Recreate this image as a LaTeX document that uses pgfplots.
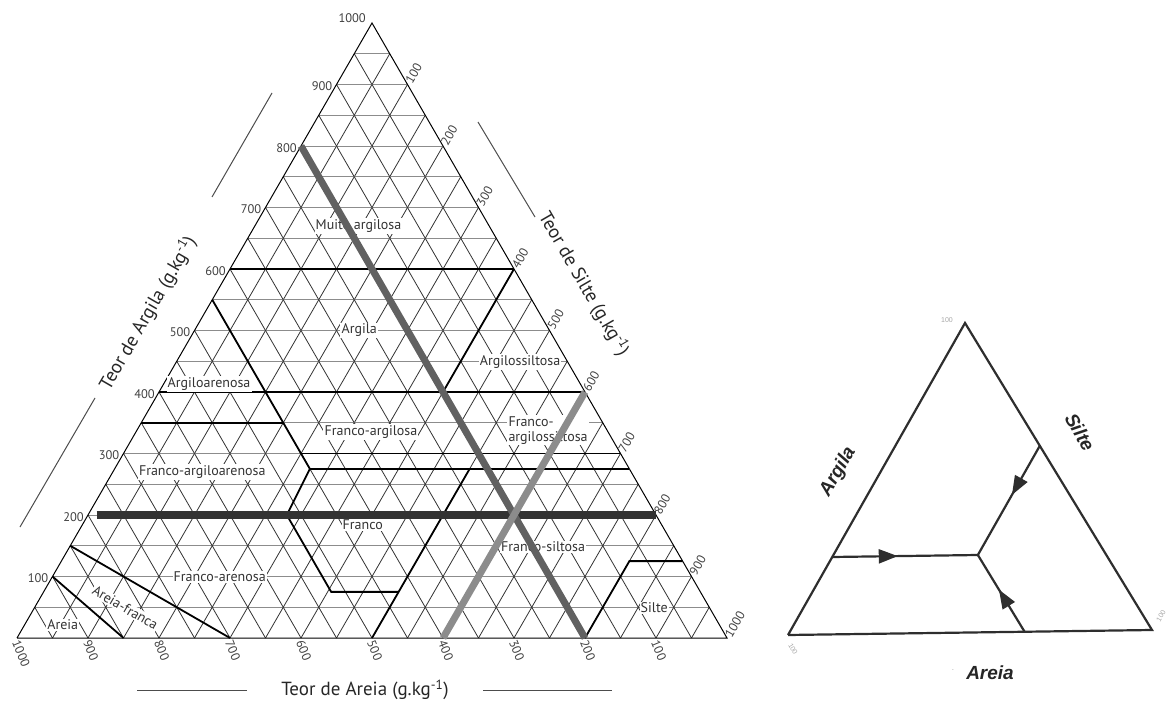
\documentclass[border=0pt]{standalone}
\usepackage{fontspec}
\setmainfont{PT Sans}
\newfontfamily\arialf{Liberation Sans}
\usepackage{pgfplots}
\pgfplotsset{compat=1.18}
\usetikzlibrary{decorations.markings,arrows.meta}

\tikzset{
  hgrid/.style={draw=black!45, line width=0.9pt},
  dgrid/.style={draw=black!80, line width=0.8pt},
  bnd/.style={black, line width=1.8pt},
  lab/.style={fill=white, inner sep=1.2pt, text=black!80, font=\fontsize{14}{15}\selectfont},
  tck/.style={text=black!75, inner sep=2pt, font=\fontsize{12.5}{13}\selectfont},
  ttl/.style={text=black!85, font=\fontsize{19}{20}\selectfont},
  arrowmid/.style={postaction={decorate, decoration={markings,
      mark=at position #1 with {\arrow{Triangle[length=19pt,width=14pt]}}}}},
}

\begin{document}
\begin{tikzpicture}
\path[use as bounding box] (0,0) rectangle (1166pt,702pt);

% left triangle: x = silt, y = clay (g/kg), skewed unit vectors
\begin{axis}[
  at={(17pt,64pt)}, anchor=origin,
  x={(0.71pt,0pt)}, y={(0.355pt,0.615pt)},
  xmin=0, xmax=1000, ymin=0, ymax=1000,
  hide axis, clip=false,
]
\pgfplotsinvokeforeach{50,100,...,950}{
  \draw[hgrid] (axis cs:0,#1) -- (axis cs:{1000-#1},#1);
  \draw[dgrid] (axis cs:#1,0) -- (axis cs:#1,{1000-#1});
  \draw[dgrid] (axis cs:#1,0) -- (axis cs:0,#1);
}
\addplot[black, line width=1pt] coordinates {(0,0) (1000,0) (0,1000) (0,0)};

% class boundaries
\addplot[bnd] coordinates {(0,600) (400,600)};
\addplot[bnd] coordinates {(0,400) (600,400)};
\addplot[bnd] coordinates {(0,350) (200,350)};
\addplot[bnd] coordinates {(0,550) (275,275)};
\addplot[bnd] coordinates {(250,300) (700,300)};
\addplot[bnd] coordinates {(275,275) (725,275)};
\addplot[bnd] coordinates {(275,275) (280,200) (405,75) (500,75)};
\addplot[bnd] coordinates {(500,0) (500,275)};
\addplot[bnd] coordinates {(400,400) (400,600)};
\addplot[bnd] coordinates {(800,0) (800,125) (875,125)};
\addplot[bnd] coordinates {(0,100) (150,0)};
\addplot[bnd] coordinates {(0,150) (300,0)};

% class names
\node[lab] at (axis cs:146,670) {Muito argilosa};
\node[lab] at (axis cs:232,500) {Argila};
\node[lab] at (axis cs:484,449) {Argilossiltosa};
\node[lab] at (axis cs:64,413) {Argiloarenosa};
\node[lab] at (axis cs:331,335) {Franco-argilosa};
\node[lab, align=left] at (axis cs:579,338) {Franco-\\argilossiltosa};
\node[lab] at (axis cs:126,270) {Franco-argiloarenosa};
\node[lab] at (axis cs:395,184) {Franco};
\node[lab] at (axis cs:667,148) {Franco-siltosa};
\node[lab] at (axis cs:236,99) {Franco-arenosa};
\node[lab, rotate=-30] at (axis cs:128,49) {Areia-franca};
\node[lab] at (axis cs:54,21) {Areia};
\node[lab] at (axis cs:873,49) {Silte};

% reading example lines
\addplot[color=black!80, line width=7.5pt] coordinates {(12,200) (800,200)};
\addplot[color=black!62, line width=7pt] coordinates {(0,800) (800,0)};
\addplot[color=black!45, line width=7pt] coordinates {(600,0) (600,400)};

% tick labels
\pgfplotsinvokeforeach{100,200,...,900}{
  \node[tck, anchor=east, xshift=-2pt, yshift=-2pt] at (axis cs:0,#1) {#1};
}
\node[tck, anchor=east, xshift=-4pt, yshift=5pt] at (axis cs:0,1000) {1000};
\pgfplotsinvokeforeach{100,200,...,1000}{
  \node[tck, anchor=west, rotate=60] at (axis cs:#1,{1000-#1}) {#1};
  \node[tck, anchor=west, rotate=-68, yshift=-2pt] at (axis cs:{1000-#1},0) {#1};
}
\end{axis}

% axis titles of the left triangle
\node[ttl, rotate=60] at (148pt,389pt) {Teor de Argila (g.kg\textsuperscript{-1})};
\draw[black!70, line width=1pt] (212pt,505pt) -- (272pt,609pt);
\draw[black!70, line width=1pt] (20pt,175pt) -- (95pt,304pt);
\node[ttl, rotate=-60] at (584pt,418pt) {Teor de Silte (g.kg\textsuperscript{-1})};
\draw[black!70, line width=1pt] (478pt,580pt) -- (535pt,485pt);
\node[ttl] at (365pt,12pt) {Teor de Areia (g.kg\textsuperscript{-1})};
\draw[black!70, line width=1pt] (137pt,12pt) -- (247pt,12pt);
\draw[black!70, line width=1pt] (483pt,12pt) -- (612pt,12pt);

% right triangle: how to read
\begin{axis}[
  at={(788pt,67pt)}, anchor=origin,
  x={(3.64pt,0.05pt)}, y={(1.77pt,3.12pt)},
  xmin=0, xmax=100, ymin=0, ymax=100,
  hide axis, clip=false,
]
\addplot[black!82, line width=2.2pt, line join=miter] coordinates {(0,0) (100,0) (0,100) (0,0)};
\addplot[black!82, line width=2.2pt, arrowmid=0.45] coordinates {(0,25) (40,25)};
\addplot[black!82, line width=2.2pt, arrowmid=0.45] coordinates {(40,60) (40,25)};
\addplot[black!82, line width=2.2pt, arrowmid=0.55] coordinates {(65,0) (40,25)};
\end{axis}
\node[text=black!35, font=\arialf\fontsize{7}{8}\selectfont] at (947pt,382pt) {100};
\node[text=black!35, rotate=-60, font=\arialf\fontsize{7}{8}\selectfont] at (793pt,53pt) {100};
\node[text=black!35, rotate=60, font=\arialf\fontsize{7}{8}\selectfont] at (1161pt,86pt) {100};
\node[text=black!85, rotate=60, font=\arialf\bfseries\itshape\fontsize{19}{21}\selectfont] at (838pt,230pt) {Argila};
\node[text=black!85, rotate=-60, font=\arialf\bfseries\itshape\fontsize{19}{21}\selectfont] at (1080pt,270pt) {Silte};
\node[text=black!85, font=\arialf\bfseries\itshape\fontsize{19}{21}\selectfont] at (990pt,29pt) {Areia};
\node[text=black!35, font=\arialf\fontsize{8}{8}\selectfont] at (953pt,32pt) {.};
\end{tikzpicture}
\end{document}
